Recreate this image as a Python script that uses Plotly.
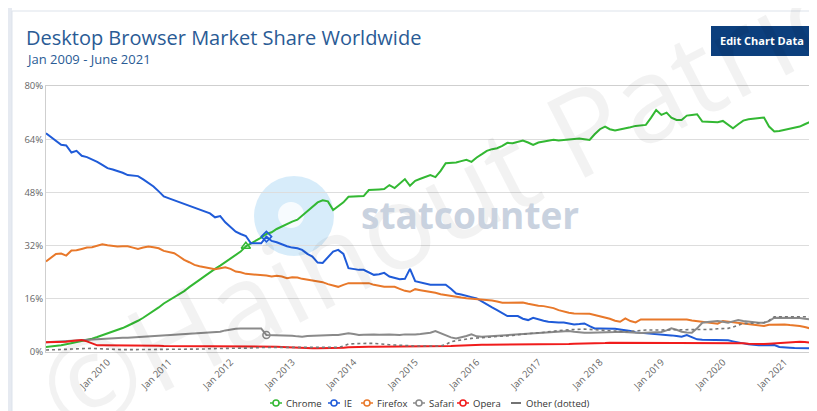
import pandas as pd
import plotly.graph_objects as go

months = pd.date_range('2009-01-01', periods=150, freq='MS')
year_ticks = pd.date_range('2010-01-01', '2021-01-01', freq='YS')

chrome = [
    1.5, 1.6, 1.8, 2.0, 2.3, 2.6, 3.0, 3.3, 3.6, 4.0, 4.5, 5.0,
    5.5, 6.0, 6.6, 7.2, 7.9, 8.6, 9.4, 10.3, 11.3, 12.3, 13.4, 14.6,
    15.5, 16.4, 17.3, 18.3, 19.5, 20.5, 21.7, 22.8, 24.0, 25.0, 26.0, 27.0,
    28.0, 29.0, 30.2, 31.8, 32.6, 33.4, 34.4, 35.5, 36.0, 37.0, 37.8, 38.6,
    39.2, 39.8, 41.0, 42.5, 43.8, 45.0, 45.6, 45.3, 42.7, 43.7, 45.0, 46.7,
    46.8, 46.7, 46.9, 48.7, 48.7, 48.9, 49.0, 50.2, 49.3, 50.5, 52.0, 50.0,
    51.5, 52.1, 52.6, 53.2, 52.6, 54.5, 56.8, 56.9, 57.0, 57.4, 57.8, 57.2,
    58.5, 59.5, 60.5, 61.0, 61.3, 62.0, 62.9, 62.8, 63.2, 63.6, 63.0, 62.3,
    63.0, 63.3, 63.6, 63.8, 63.6, 63.7, 63.9, 64.1, 64.2, 64.0, 63.8, 65.5,
    67.0, 67.8, 67.0, 66.6, 67.0, 67.3, 67.6, 68.0, 68.2, 68.3, 70.5, 72.8,
    71.3, 72.0, 70.5, 69.8, 69.8, 71.1, 71.3, 71.5, 69.3, 69.2, 69.1, 69.1,
    69.5, 68.5, 67.3, 68.5, 69.6, 70.0, 70.2, 70.4, 70.5, 67.8, 66.3, 66.5,
    66.8, 67.0, 67.4, 67.8, 68.5, 69.2,
]
ie = [
    65.8, 64.6, 63.4, 62.3, 62.1, 60.0, 60.5, 59.0, 58.6, 58.0, 57.2, 56.3,
    55.3, 54.9, 54.5, 53.9, 53.2, 53.1, 52.9, 51.9, 50.8, 49.8, 48.3, 46.8,
    46.2, 45.6, 45.2, 44.6, 44.0, 43.4, 42.8, 42.2, 41.7, 40.5, 40.9, 39.0,
    37.5, 36.2, 35.5, 34.9, 32.7, 32.7, 32.7, 34.7, 33.4, 33.0, 32.3, 31.8,
    31.4, 31.2, 30.7, 29.5, 28.7, 26.9, 26.8, 28.5, 30.2, 30.7, 29.5, 25.2,
    24.9, 24.7, 24.7, 23.9, 23.2, 23.4, 23.8, 22.7, 22.3, 21.9, 22.0, 25.0,
    21.3, 20.9, 20.4, 20.2, 20.2, 20.2, 20.2, 19.0, 17.6, 17.3, 16.8, 16.5,
    16.1, 15.2, 14.1, 13.4, 12.6, 11.6, 10.8, 10.8, 10.8, 10.0, 9.6, 10.3,
    9.8, 9.4, 9.1, 8.9, 8.9, 8.9, 8.7, 8.3, 8.4, 8.6, 7.8, 7.1,
    7.1, 7.1, 7.1, 7.0, 6.8, 6.6, 6.3, 5.9, 5.8, 5.6, 5.6, 5.4,
    5.2, 5.1, 5.0, 4.8, 4.6, 5.1, 4.5, 3.8, 3.7, 3.7, 3.7, 3.7,
    3.7, 3.5, 3.2, 2.8, 2.6, 2.3, 2.1, 2.0, 2.0, 2.0, 2.1, 1.5,
    1.3, 1.3, 1.2, 1.2, 1.1, 1.1,
]
firefox = [
    27.2, 28.3, 29.5, 29.6, 29.0, 30.5, 30.6, 31.0, 31.4, 31.5, 32.0, 32.4,
    32.1, 31.9, 31.7, 31.8, 31.8, 31.4, 31.0, 31.4, 31.7, 31.5, 31.2, 30.4,
    30.0, 29.7, 28.8, 27.7, 27.0, 26.2, 25.8, 25.5, 25.2, 24.9, 25.2, 25.5,
    25.0, 24.2, 24.0, 23.5, 23.4, 23.3, 23.3, 23.0, 22.7, 22.9, 22.7, 22.2,
    22.5, 22.4, 22.0, 21.7, 21.4, 21.2, 21.0, 20.4, 19.9, 19.6, 20.2, 20.7,
    20.7, 20.7, 20.7, 20.7, 20.2, 19.9, 19.6, 19.6, 19.6, 19.0, 18.4, 18.1,
    18.9, 18.6, 18.4, 18.1, 17.8, 17.4, 17.1, 16.8, 16.6, 16.4, 16.2, 16.1,
    16.0, 15.9, 15.8, 15.5, 15.2, 14.8, 14.8, 14.9, 14.9, 14.9, 14.5, 14.1,
    13.9, 13.8, 13.6, 13.2, 12.6, 12.1, 11.8, 11.6, 11.6, 11.6, 11.5, 11.1,
    10.8, 10.5, 10.0, 9.4, 9.1, 10.1, 9.3, 8.9, 9.8, 9.8, 9.8, 9.8,
    9.7, 9.6, 9.6, 9.7, 9.8, 9.8, 9.5, 9.3, 9.2, 9.0, 8.8, 8.5,
    9.3, 9.1, 8.9, 8.8, 8.6, 8.3, 8.0, 7.8, 7.8, 8.2, 8.3, 8.3,
    8.3, 8.1, 8.0, 7.8, 7.5, 7.1,
]
safari = [
    2.9, 3.0, 3.1, 3.2, 3.3, 3.4, 3.5, 3.6, 3.8, 3.9, 4.0, 4.1,
    4.1, 4.2, 4.2, 4.3, 4.3, 4.4, 4.4, 4.5, 4.6, 4.7, 4.9, 5.0,
    5.1, 5.2, 5.2, 5.3, 5.4, 5.5, 5.6, 5.6, 5.7, 5.9, 6.1, 6.5,
    6.8, 7.0, 7.1, 7.1, 7.0, 7.1, 7.1, 5.1, 5.1, 5.0, 5.1, 5.0,
    4.9, 4.7, 4.6, 4.8, 4.9, 5.0, 5.1, 5.0, 5.1, 5.1, 5.3, 5.6,
    5.4, 5.1, 5.2, 5.3, 5.3, 5.2, 5.3, 5.3, 5.2, 5.1, 5.3, 5.2,
    5.3, 5.4, 5.6, 5.8, 6.3, 5.6, 5.1, 4.4, 4.1, 4.4, 4.8, 5.3,
    4.7, 4.6, 4.7, 4.8, 4.9, 5.0, 5.2, 5.3, 5.4, 5.5, 5.6, 5.6,
    5.7, 5.8, 6.0, 6.1, 6.2, 6.3, 6.3, 6.1, 5.9, 5.8, 5.8, 5.8,
    5.8, 5.8, 5.9, 6.0, 6.1, 6.0, 5.8, 5.6, 5.7, 5.8, 5.8, 5.8,
    6.0, 6.5, 7.1, 6.7, 6.1, 5.9, 5.8, 7.1, 8.8, 9.0, 9.2, 9.3,
    9.1, 8.8, 9.2, 9.6, 9.3, 9.1, 8.9, 8.8, 8.8, 9.3, 10.3, 10.3,
    10.3, 10.3, 10.3, 10.2, 10.0, 9.8,
]
opera = [
    2.9, 2.9, 3.0, 3.0, 3.1, 3.3, 3.5, 3.6, 3.2, 2.6, 2.0, 2.0,
    2.0, 2.0, 2.1, 2.1, 2.1, 2.1, 2.1, 2.0, 2.0, 1.9, 1.9, 1.8,
    1.8, 1.8, 1.8, 1.8, 1.7, 1.7, 1.7, 1.6, 1.6, 1.6, 1.7, 1.7,
    1.7, 1.7, 1.7, 1.6, 1.6, 1.6, 1.6, 1.6, 1.6, 1.6, 1.5, 1.4,
    1.3, 1.2, 1.1, 1.1, 1.1, 1.1, 1.1, 1.1, 1.2, 1.2, 1.3, 1.4,
    1.5, 1.5, 1.6, 1.6, 1.6, 1.6, 1.7, 1.7, 1.7, 1.7, 1.8, 1.8,
    1.8, 1.7, 1.6, 1.6, 1.7, 1.7, 1.8, 1.8, 1.9, 2.0, 2.1, 2.1,
    2.1, 2.2, 2.2, 2.2, 2.3, 2.3, 2.3, 2.3, 2.3, 2.3, 2.3, 2.3,
    2.3, 2.3, 2.3, 2.3, 2.4, 2.4, 2.4, 2.5, 2.5, 2.6, 2.6, 2.7,
    2.7, 2.7, 2.8, 2.8, 2.8, 2.8, 2.8, 2.8, 2.8, 2.8, 2.8, 2.8,
    2.8, 2.8, 2.8, 2.8, 2.8, 2.8, 2.8, 2.8, 2.8, 2.8, 2.8, 2.8,
    2.8, 2.8, 2.8, 2.7, 2.6, 2.5, 2.4, 2.4, 2.4, 2.5, 2.6, 2.8,
    2.9, 3.0, 3.1, 3.1, 3.0, 2.8,
]
other = [
    0.6, 0.6, 0.7, 0.7, 0.8, 0.9, 1.0, 1.1, 1.2, 1.1, 1.0, 0.9,
    0.8, 0.8, 0.7, 0.7, 0.7, 0.7, 0.7, 0.7, 0.7, 0.7, 0.7, 0.7,
    0.7, 0.7, 0.8, 0.8, 0.8, 0.9, 0.9, 0.9, 1.0, 1.0, 1.0, 1.1,
    1.1, 1.1, 1.1, 1.1, 1.2, 1.3, 1.4, 1.4, 1.4, 1.4, 1.4, 1.4,
    1.4, 1.4, 1.4, 1.4, 1.4, 1.4, 1.4, 1.4, 1.4, 1.4, 1.8, 2.4,
    2.5, 2.6, 2.6, 2.6, 2.6, 2.4, 2.3, 2.2, 2.1, 2.1, 2.0, 1.9,
    1.8, 1.8, 1.8, 1.8, 1.8, 1.8, 2.2, 3.1, 3.4, 3.7, 4.0, 4.1,
    4.2, 4.3, 4.4, 4.5, 4.6, 4.6, 4.8, 5.0, 5.2, 5.4, 5.6, 5.7,
    5.8, 5.9, 6.1, 6.3, 6.5, 6.6, 6.7, 6.8, 6.9, 6.9, 6.8, 6.7,
    6.6, 6.4, 6.3, 6.2, 6.1, 6.1, 6.2, 6.4, 6.6, 6.6, 6.6, 6.6,
    6.6, 6.6, 6.6, 6.6, 6.6, 6.6, 6.6, 6.6, 6.6, 6.7, 6.8, 7.0,
    7.1, 7.1, 7.5, 8.0, 8.6, 8.6, 8.6, 8.6, 8.8, 9.5, 10.6, 10.6,
    10.6, 10.6, 10.6, 10.6, 10.6, 10.6,
]

# the page body has an 8px margin, so the figure is drawn 8px smaller
# plot area on screen: x 46..810, y 86..352
def px(x):
    return (x - 46) / 764

def py(y):
    return (352 - y) / 266

fig = go.Figure()

series = [
    ('Chrome', chrome, '#33b833'),
    ('IE', ie, '#1f5bd8'),
    ('Firefox', firefox, '#e8782a'),
    ('Safari', safari, '#8a8a8a'),
    ('Opera', opera, '#f01c1c'),
]

for name, vals, color in series:
    fig.add_trace(go.Scatter(x=months, y=vals, mode='lines', name=name,
                             line=dict(color=color, width=2), showlegend=False))
fig.add_trace(go.Scatter(x=months, y=other, mode='lines', name='Other (dotted)',
                         line=dict(color='#777777', width=1.6, dash='dot'), showlegend=False))

# the few hover markers visible on the lines
fig.add_trace(go.Scatter(x=[months[39]], y=[chrome[39]], mode='markers', showlegend=False,
                         marker=dict(symbol='triangle-up-open', size=8, color='#33b833', line=dict(width=1.5))))
fig.add_trace(go.Scatter(x=[months[43]], y=[ie[43]], mode='markers', showlegend=False,
                         marker=dict(symbol='diamond-open', size=8, color='#1f5bd8', line=dict(width=1.5))))
fig.add_trace(go.Scatter(x=[months[43]], y=[safari[43]], mode='markers', showlegend=False,
                         marker=dict(symbol='circle-open', size=7, color='#8a8a8a', line=dict(width=1.5))))

shapes = [
    dict(type='rect', xref='paper', yref='paper', x0=px(0), x1=px(12), y0=py(420), y1=py(0),
         fillcolor='#e6eaf1', line=dict(width=0), layer='below'),
    dict(type='rect', xref='paper', yref='paper', x0=px(12), x1=px(840), y0=py(440), y1=py(11),
         fillcolor='rgba(0,0,0,0)', line=dict(color='#dde3eb', width=1), layer='below'),
    dict(type='circle', xref='paper', yref='paper', x0=px(254), x1=px(334), y0=py(256), y1=py(176),
         fillcolor='rgba(140,200,240,0.35)', line=dict(width=0), layer='below'),
    dict(type='circle', xref='paper', yref='paper', x0=px(278), x1=px(304), y0=py(228), y1=py(202),
         fillcolor='rgba(255,255,255,0.8)', line=dict(width=0), layer='below'),
    dict(type='rect', xref='paper', yref='paper', x0=px(711), x1=px(812), y0=py(56), y1=py(26),
         fillcolor='#0c3f7d', line=dict(width=0), layer='below'),
]

annotations = [
    dict(text='©Hainout Patric', x=px(440), y=py(200), xref='paper', yref='paper',
         showarrow=False, textangle=-27, font=dict(family='Open Sans', size=118, color='rgba(0,0,0,0.05)')),
    dict(text='<b>statcounter</b>', x=px(470), y=py(214), xref='paper', yref='paper',
         showarrow=False, font=dict(family='Open Sans', size=37, color='#c9d2df')),
    dict(text='Desktop Browser Market Share Worldwide', x=px(24), y=py(37), xref='paper', yref='paper',
         xanchor='left', yanchor='middle', showarrow=False,
         font=dict(family='Open Sans', size=20, color='#2a5b95')),
    dict(text='Jan 2009 - June 2021', x=px(24), y=py(59), xref='paper', yref='paper',
         xanchor='left', yanchor='middle', showarrow=False,
         font=dict(family='Open Sans', size=13, color='#2a5b95')),
    dict(text='<b>Edit Chart Data</b>', x=px(761.5), y=py(41), xref='paper', yref='paper',
         xanchor='center', yanchor='middle', showarrow=False,
         font=dict(family='Open Sans', size=11, color='#ffffff')),
]

# compact legend drawn as shapes + text, like the original
legend_items = [('Chrome', '#33b833', 270), ('IE', '#1f5bd8', 328), ('Firefox', '#e8782a', 361),
                ('Safari', '#8a8a8a', 413), ('Opera', '#f01c1c', 457)]
ly = 403
for name, color, lx in legend_items:
    shapes.append(dict(type='line', xref='paper', yref='paper', x0=px(lx), x1=px(lx + 12),
                       y0=py(ly), y1=py(ly), line=dict(color=color, width=1.5)))
    shapes.append(dict(type='circle', xref='paper', yref='paper', x0=px(lx + 3), x1=px(lx + 9),
                       y0=py(ly + 3), y1=py(ly - 3), fillcolor='#ffffff', line=dict(color=color, width=1.5)))
    annotations.append(dict(text=name, x=px(lx + 14), y=py(ly), xref='paper', yref='paper',
                            xanchor='left', yanchor='middle', showarrow=False,
                            font=dict(family='Open Sans', size=9.5, color='#333333')))
shapes.append(dict(type='line', xref='paper', yref='paper', x0=px(511), x1=px(521),
                   y0=py(ly), y1=py(ly), line=dict(color='#444444', width=1.5)))
annotations.append(dict(text='Other (dotted)', x=px(524), y=py(ly), xref='paper', yref='paper',
                        xanchor='left', yanchor='middle', showarrow=False,
                        font=dict(family='Open Sans', size=9.5, color='#333333')))

fig.update_layout(
    width=809, height=403,
    margin=dict(l=38, r=7, t=78, b=59, autoexpand=False),
    paper_bgcolor='#ffffff', plot_bgcolor='rgba(0,0,0,0)',
    font=dict(family='Open Sans', color='#666666'),
    shapes=shapes, annotations=annotations, showlegend=False,
    xaxis=dict(range=['2009-01-01', '2021-06-01'], tickvals=year_ticks,
               tickformat='%b %Y', tickangle=-45, tickfont=dict(size=9.5, color='#666666'),
               showgrid=False, showline=True, linecolor='#cfcfcf', mirror=True, zeroline=False),
    yaxis=dict(range=[0, 80], dtick=16, ticksuffix='%', tickfont=dict(size=9.5, color='#666666'),
               showgrid=True, gridcolor='#dddddd', showline=True, linecolor='#cfcfcf',
               mirror=True, zeroline=False),
)

fig.write_html("out.html")
